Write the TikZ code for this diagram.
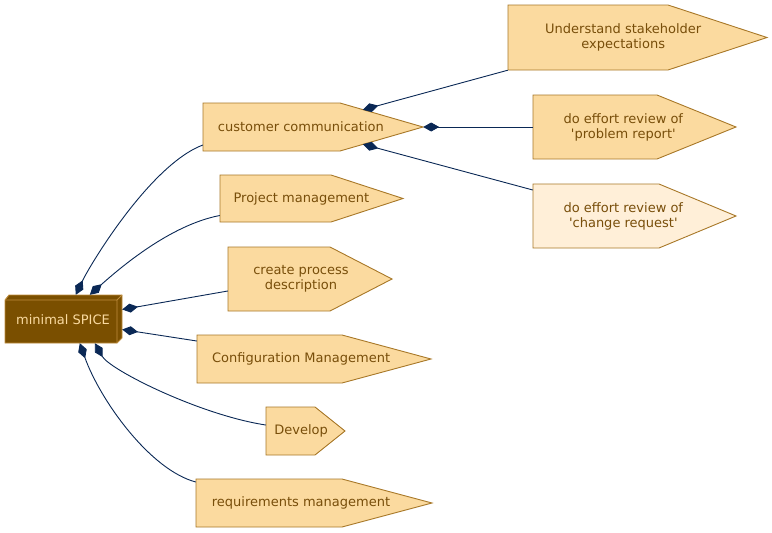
\documentclass[tikz,border=0pt]{standalone}
\usepackage{fontspec}
\setmainfont{DejaVu Sans}[Ligatures=TeXOff]
\usetikzlibrary{arrows.meta,calc}
\definecolor{cdsfill}{RGB}{251,218,159}
\definecolor{cdslight}{RGB}{255,239,216}
\definecolor{cdsline}{RGB}{168,120,40}
\definecolor{cdstext}{RGB}{120,78,10}
\definecolor{spfill}{RGB}{122,79,0}
\definecolor{spline}{RGB}{190,140,60}
\definecolor{sptext}{RGB}{250,218,160}
\definecolor{edgecol}{RGB}{10,40,85}
\tikzset{
  cdsbox/.style={draw=cdsline, line width=0.9pt, line join=miter},
  lbl/.style={text=cdstext, font=\fontsize{13}{15}\selectfont, align=center, inner sep=0pt},
  edge/.style={draw=edgecol, line width=0.9pt, {Diamond[length=16pt,width=9pt]}-},
}
% #1 name, #2 left, #3 top, #4 notch, #5 tip, #6 bottom, #7 fill, #8 text
\newcommand\cdsnode[8]{%
  \path[cdsbox, fill=#7] (#2,#3) -- (#4,#3) -- (#5,{(#3+#6)/2}) -- (#4,#6) -- (#2,#6) -- cycle;
  \node[inner sep=0pt, minimum width={(#5-#2)*1pt}, minimum height={(#6-#3)*1pt}] (#1) at ({(#2+#5)/2},{(#3+#6)/2}) {};
  \node[lbl] (#1-t) at ({(#2+#5)/2-0.055*(#5-#2)},{(#3+#6)/2}) {#8};
}
\begin{document}
\begin{tikzpicture}[x=1pt,y=-1pt]
\useasboundingbox (0,0) rectangle (772,533);
% minimal SPICE box3d
\path[draw=spline, fill=spfill, line width=0.9pt] (5,300) -- (9,295) -- (122,295) -- (122,338) -- (117,343) -- (5,343) -- cycle;
\draw[spline, line width=0.9pt] (5,300) -- (117,300) -- (122,295) (117,300) -- (117,343);
\node[inner sep=0pt, minimum width=112pt, minimum height=43pt] (sp) at (61,321.5) {};
\node[lbl, text=sptext] (sp-t) at (63,320) {minimal SPICE};

\cdsnode{cc}{203}{103}{340}{423}{151}{cdsfill}{customer communication}
\cdsnode{us}{508}{5}{668}{767}{70}{cdsfill}{Understand stakeholder\\expectations}
\cdsnode{pr}{533}{95}{657}{736}{159}{cdsfill}{do effort review of\\'problem report'}
\cdsnode{cr}{533}{184}{659}{736}{248}{cdslight}{do effort review of\\'change request'}
\cdsnode{pm}{220}{175}{331}{403}{222}{cdsfill}{Project management}
\cdsnode{cp}{228}{247}{330}{392}{311}{cdsfill}{create process\\description}
\cdsnode{cm}{197}{335}{342}{431}{383}{cdsfill}{Configuration Management}
\cdsnode{dv}{266}{407}{315}{345}{455}{cdsfill}{Develop}
\cdsnode{rm}{196}{479}{342}{432}{527}{cdsfill}{requirements management}

% edges from minimal SPICE
\draw[edge] ($(sp.north west)+(71,-5)$) .. controls (90,265) and (150,165) .. ($(cc.west)+(0,18)$);
\draw[edge] ($(sp.north west)+(85,-5)$) .. controls (120,268) and (170,225) .. ($(pm.west)+(0,17)$);
\draw[edge] ($(sp.east)+(5,-12)$) -- ($(cp.west)+(0,12)$);
\draw[edge] ($(sp.east)+(5,8)$) -- ($(cm.west)+(0,-18)$);
\draw[edge] ($(sp.south west)+(90,0)$) .. controls (110,370) and (200,415) .. ($(dv.west)+(0,-6)$);
\draw[edge] ($(sp.south west)+(75,0)$) .. controls (100,400) and (150,470) .. ($(rm.west)+(0,-21)$);
% edges from customer communication
\draw[edge] ($(cc.north west)+(160,7)$) -- (us.south west);
\draw[edge] (cc.east) -- (pr.west);
\draw[edge] ($(cc.south west)+(160,-7)$) -- ($(cr.west)+(0,-26)$);
\end{tikzpicture}
\end{document}
